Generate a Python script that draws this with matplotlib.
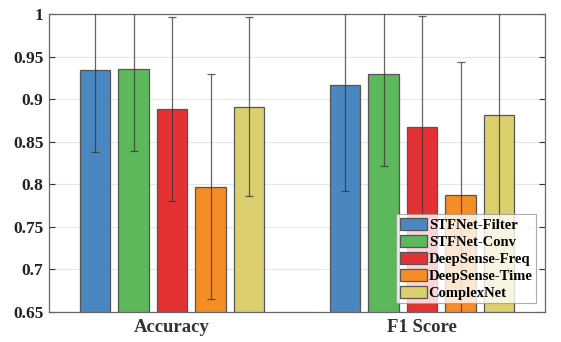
import numpy as np
import matplotlib
matplotlib.use('Agg')
import matplotlib.pyplot as plt

# data
metrics = ['Accuracy', 'F1 Score']
models = ['STFNet-Filter', 'STFNet-Conv', 'DeepSense-Freq', 'DeepSense-Time', 'ComplexNet']
means = {
    'STFNet-Filter':  [0.934, 0.917],
    'STFNet-Conv':    [0.935, 0.929],
    'DeepSense-Freq': [0.888, 0.867],
    'DeepSense-Time': [0.797, 0.788],
    'ComplexNet':     [0.891, 0.881],
}
errs = {
    'STFNet-Filter':  [0.096, 0.125],
    'STFNet-Conv':    [0.096, 0.107],
    'DeepSense-Freq': [0.108, 0.131],
    'DeepSense-Time': [0.132, 0.156],
    'ComplexNet':     [0.105, 0.13],
}
colors = ['#4a87c0', '#5db85b', '#e43234', '#f58d26', '#dccf6e']

plt.rcParams['font.family'] = ['Liberation Serif', 'DejaVu Serif']
plt.rcParams['font.weight'] = 'bold'

fig = plt.figure(figsize=(5.61, 3.42), dpi=100)
ax = fig.add_axes([49/561, 30/342, 496/561, 298/342])

x = np.arange(1, len(metrics) + 1)
step = 0.154
width = 0.123
for i, m in enumerate(models):
    pos = x + (i - 2) * step
    ax.bar(pos, means[m], width, color=colors[i], edgecolor='#555555',
           linewidth=0.9, label=m, zorder=2)
    ax.errorbar(pos, means[m], yerr=errs[m], fmt='none', ecolor='#333333',
                elinewidth=0.9, capsize=3, capthick=0.9, alpha=0.75, zorder=3)

ax.set_ylim(0.65, 1.0)
ax.set_xlim(0.508, 2.492)
ax.set_yticks(np.arange(0.65, 1.001, 0.05))
ax.set_yticklabels(['0.65', '0.7', '0.75', '0.8', '0.85', '0.9', '0.95', '1'])
ax.set_xticks(x)
ax.set_xticklabels(metrics, fontsize=13.5, fontweight='bold', color='#333333')
ax.tick_params(axis='x', length=0, pad=5)
ax.tick_params(axis='y', direction='in', right=True, length=4, labelsize=12.5,
               colors='#333333', labelcolor='#222222', pad=4)
for lab in ax.get_yticklabels():
    lab.set_fontweight('bold')
ax.grid(axis='y', color='#e6e6e6', linewidth=0.8, zorder=0)
ax.set_axisbelow(True)
for s in ax.spines.values():
    s.set_color('#666666')
    s.set_linewidth(0.9)

leg = ax.legend(loc='lower right', frameon=True, fancybox=False,
                edgecolor='#999999', borderpad=0.25, labelspacing=0.2,
                handlelength=1.9, handleheight=0.9, handletextpad=0.1,
                borderaxespad=0.6, prop={'weight': 'bold', 'size': 10.5})
leg.get_frame().set_linewidth(0.8)
leg.set_zorder(5)

fig.savefig('out.png', dpi=100)
